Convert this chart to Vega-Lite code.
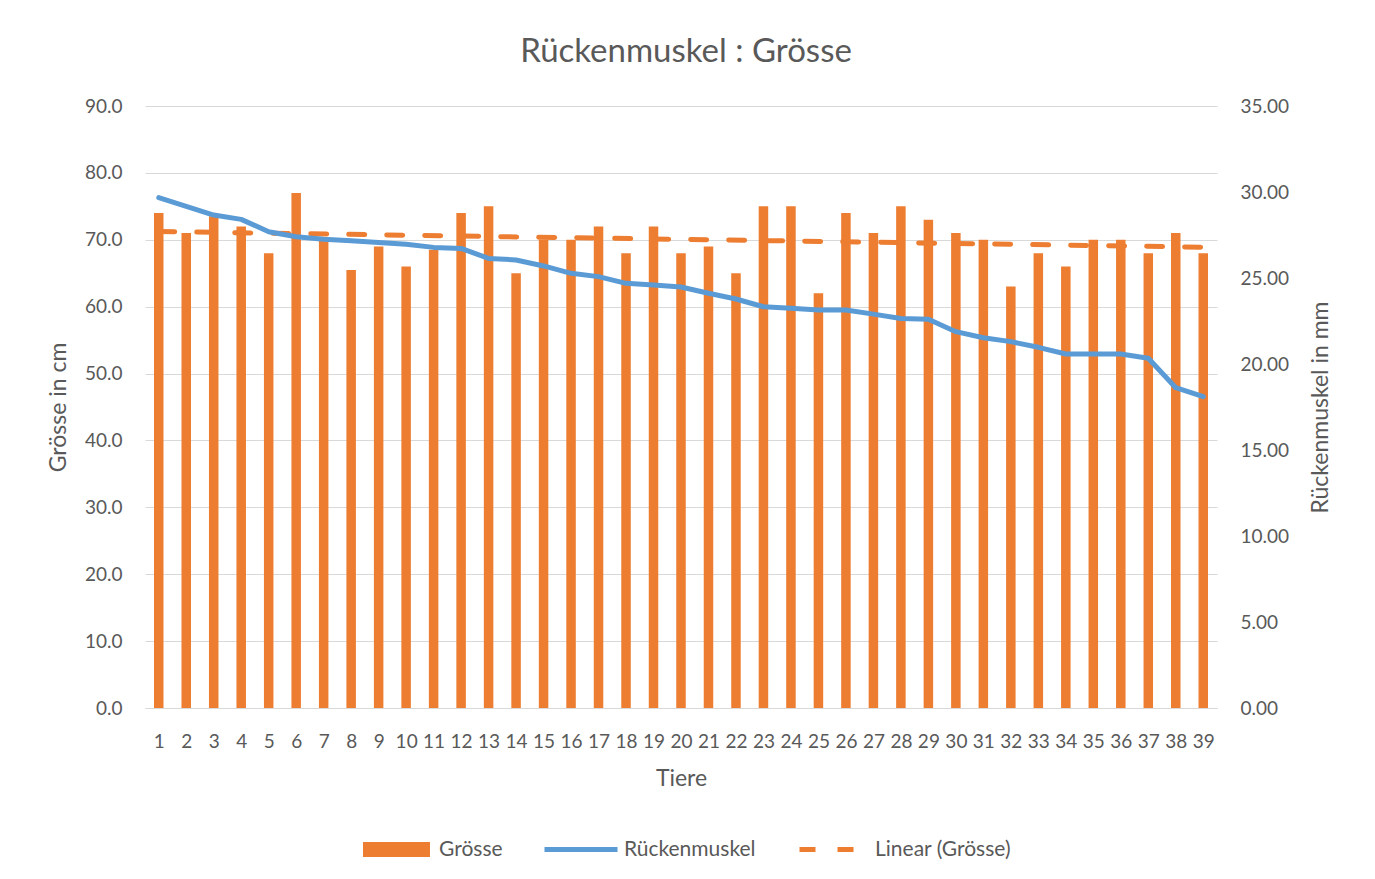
{
  "$schema": "https://vega.github.io/schema/vega-lite/v6.json",
  "width": 1072,
  "height": 602,
  "autosize": "none",
  "padding": {"left": 145, "top": 106, "right": 158, "bottom": 171},
  "background": "white",
  "config": {
    "font": "Lato",
    "view": {"stroke": null},
    "axis": {"labelColor": "#595959", "titleColor": "#595959", "labelFont": "Lato", "titleFont": "Lato", "labelFontSize": 19, "titleFontSize": 23, "titleFontWeight": "normal", "gridColor": "#D9D9D9", "domain": false, "ticks": false},
    "legend": {"labelFont": "Lato", "labelFontSize": 21, "labelColor": "#595959", "padding": 0, "title": null}
  },
  "title": {"text": "Rückenmuskel : Grösse", "fontSize": 33, "font": "Lato", "fontWeight": "normal", "color": "#595959", "anchor": "middle", "frame": "group", "baseline": "alphabetic", "offset": 2, "dx": 5},
  "data": {"values": [
    {"Tier": 1, "Groesse": 74, "Rueckenmuskel": 29.67},
    {"Tier": 2, "Groesse": 71, "Rueckenmuskel": 29.17},
    {"Tier": 3, "Groesse": 73.5, "Rueckenmuskel": 28.66},
    {"Tier": 4, "Groesse": 72, "Rueckenmuskel": 28.41},
    {"Tier": 5, "Groesse": 68, "Rueckenmuskel": 27.69},
    {"Tier": 6, "Groesse": 77, "Rueckenmuskel": 27.4},
    {"Tier": 7, "Groesse": 70, "Rueckenmuskel": 27.25},
    {"Tier": 8, "Groesse": 65.5, "Rueckenmuskel": 27.17},
    {"Tier": 9, "Groesse": 69, "Rueckenmuskel": 27.07},
    {"Tier": 10, "Groesse": 66, "Rueckenmuskel": 26.96},
    {"Tier": 11, "Groesse": 68.5, "Rueckenmuskel": 26.78},
    {"Tier": 12, "Groesse": 74, "Rueckenmuskel": 26.72},
    {"Tier": 13, "Groesse": 75, "Rueckenmuskel": 26.14},
    {"Tier": 14, "Groesse": 65, "Rueckenmuskel": 26.05},
    {"Tier": 15, "Groesse": 70, "Rueckenmuskel": 25.7},
    {"Tier": 16, "Groesse": 70, "Rueckenmuskel": 25.27},
    {"Tier": 17, "Groesse": 72, "Rueckenmuskel": 25.08},
    {"Tier": 18, "Groesse": 68, "Rueckenmuskel": 24.69},
    {"Tier": 19, "Groesse": 72, "Rueckenmuskel": 24.6},
    {"Tier": 20, "Groesse": 68, "Rueckenmuskel": 24.48},
    {"Tier": 21, "Groesse": 69, "Rueckenmuskel": 24.11},
    {"Tier": 22, "Groesse": 65, "Rueckenmuskel": 23.78},
    {"Tier": 23, "Groesse": 75, "Rueckenmuskel": 23.33},
    {"Tier": 24, "Groesse": 75, "Rueckenmuskel": 23.24},
    {"Tier": 25, "Groesse": 62, "Rueckenmuskel": 23.14},
    {"Tier": 26, "Groesse": 74, "Rueckenmuskel": 23.14},
    {"Tier": 27, "Groesse": 71, "Rueckenmuskel": 22.9},
    {"Tier": 28, "Groesse": 75, "Rueckenmuskel": 22.65},
    {"Tier": 29, "Groesse": 73, "Rueckenmuskel": 22.6},
    {"Tier": 30, "Groesse": 71, "Rueckenmuskel": 21.88},
    {"Tier": 31, "Groesse": 70, "Rueckenmuskel": 21.53},
    {"Tier": 32, "Groesse": 63, "Rueckenmuskel": 21.3},
    {"Tier": 33, "Groesse": 68, "Rueckenmuskel": 20.97},
    {"Tier": 34, "Groesse": 66, "Rueckenmuskel": 20.58},
    {"Tier": 35, "Groesse": 70, "Rueckenmuskel": 20.58},
    {"Tier": 36, "Groesse": 70, "Rueckenmuskel": 20.58},
    {"Tier": 37, "Groesse": 68, "Rueckenmuskel": 20.33},
    {"Tier": 38, "Groesse": 71, "Rueckenmuskel": 18.62},
    {"Tier": 39, "Groesse": 68, "Rueckenmuskel": 18.1}
  ]},
  "encoding": {
    "x": {"field": "Tier", "type": "quantitative", "scale": {"domain": [0.5, 39.5], "nice": false, "zero": false, "padding": 0},
      "axis": {"title": "Tiere", "values": [1,2,3,4,5,6,7,8,9,10,11,12,13,14,15,16,17,18,19,20,21,22,23,24,25,26,27,28,29,30,31,32,33,34,35,36,37,38,39], "format": "d", "grid": false, "domain": true, "domainColor": "#D9D9D9", "labelPadding": 24, "titlePadding": 16, "labelFlush": false, "labelOverlap": false}}
  },
  "layer": [
    {
      "mark": {"type": "bar", "width": 9.5},
      "encoding": {
        "y": {"field": "Groesse", "type": "quantitative", "scale": {"domain": [0, 90], "nice": false},
          "axis": {"title": "Grösse in cm", "values": [0,10,20,30,40,50,60,70,80,90], "format": ".1f", "labelPadding": 23, "titlePadding": 14, "grid": true}},
        "fill": {"datum": "Grösse", "type": "nominal", "scale": {"range": ["#ED7D31"]},
          "legend": {"orient": "none", "legendX": 218, "legendY": 710, "symbolType": "M-1,-0.224H1V0.224H-1Z", "symbolSize": 4489, "symbolStrokeWidth": 0, "labelOffset": 9}}
      }
    },
    {
      "transform": [{"regression": "Groesse", "on": "Tier", "extent": [1, 39]}],
      "mark": {"type": "line", "color": "#ED7D31", "strokeWidth": 5, "strokeCap": "round"},
      "encoding": {
        "y": {"field": "Groesse", "type": "quantitative", "scale": {"domain": [0, 90], "nice": false}, "axis": null},
        "strokeDash": {"datum": "Linear (Grösse)", "type": "nominal", "scale": {"range": [[16, 22]]},
          "legend": {"orient": "none", "legendX": 652, "legendY": 711, "symbolType": "stroke", "symbolSize": 3600, "symbolStrokeColor": "#ED7D31", "symbolStrokeWidth": 5, "labelOffset": 13}}
      }
    },
    {
      "mark": {"type": "line", "color": "#5B9BD5", "strokeWidth": 5, "strokeCap": "round", "strokeJoin": "round"},
      "encoding": {
        "y": {"field": "Rueckenmuskel", "type": "quantitative", "scale": {"domain": [0, 35], "nice": false},
          "axis": {"title": "Rückenmuskel in mm", "orient": "right", "titleAngle": 270, "values": [0,5,10,15,20,25,30,35], "format": ".2f", "labelPadding": 23, "titlePadding": 44, "grid": false}},
        "stroke": {"datum": "Rückenmuskel", "type": "nominal", "scale": {"range": ["#5B9BD5"]},
          "legend": {"orient": "none", "legendX": 397, "legendY": 704.5, "symbolType": "stroke", "symbolSize": 5329, "symbolStrokeWidth": 5, "labelOffset": 4}}
      }
    }
  ],
  "resolve": {"scale": {"y": "independent", "fill": "independent", "stroke": "independent", "strokeDash": "independent"}}
}
